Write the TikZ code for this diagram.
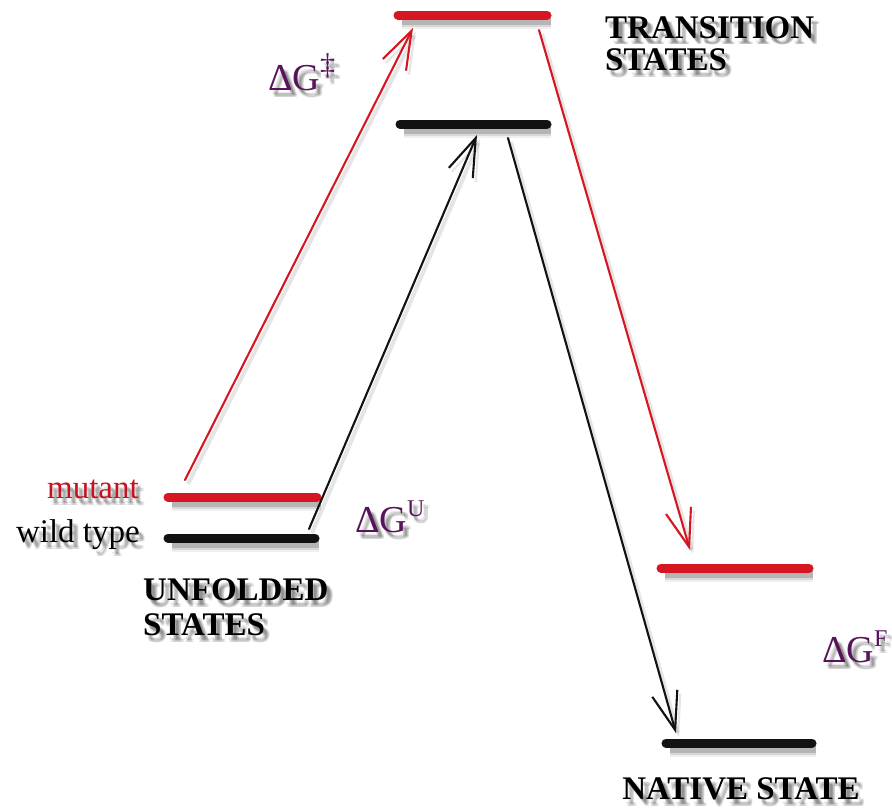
\documentclass[tikz,border=0pt]{standalone}
\usepackage{fontspec}
\setmainfont{Liberation Serif}
\usetikzlibrary{arrows.meta}

\definecolor{lvred}{RGB}{214,22,32}
\definecolor{lvblack}{RGB}{18,18,18}
\definecolor{dgpurple}{RGB}{88,20,90}
\definecolor{mutred}{RGB}{196,18,36}

% a text node with a soft grey drop shadow
% #1 name, #2 position, #3 node options, #4 text
\newcommand\softlabel[4]{%
  \foreach \dx/\dy in {3/4,4/5,5/6,6/7,4/7,6/5}{%
    \node[#3, text=black, opacity=0.09] at ([shift={(\dx,\dy)}]#2) {#4};
  }
  \node[#3] (#1) at (#2) {#4};
}

\tikzset{
  shadowed/.style={
    preaction={draw=black, draw opacity=0.06, line width=#1+8pt,
      transform canvas={shift={(4pt,-6pt)}}},
    preaction={draw=black, draw opacity=0.10, line width=#1+4pt,
      transform canvas={shift={(4pt,-6pt)}}},
    preaction={draw=black, draw opacity=0.16, line width=#1,
      transform canvas={shift={(4pt,-6pt)}}}},
  level/.style={line width=9pt, line cap=round, shadowed=7pt},
  arr/.style={line width=2.1pt, line cap=round,
    -{Straight Barb[length=38pt,width=26pt,line width=2.1pt]},
    preaction={draw=black, draw opacity=0.10, line width=4pt,
      transform canvas={shift={(3pt,-4pt)}}}},
  statefont/.style={font=\fontsize{33}{36}\selectfont\bfseries, inner sep=0pt},
  tagfont/.style={font=\fontsize{33}{36}\selectfont, inner sep=0pt},
  dgfont/.style={font=\fontsize{38}{40}\selectfont, text=dgpurple, inner sep=0pt},
}

\newcommand\supmark[2][24]{\raisebox{0.42em}{\fontsize{#1}{#1}\selectfont #2}}

\begin{document}
\begin{tikzpicture}[x=1pt, y=-1pt]
  \useasboundingbox (0,0) rectangle (892,811);

  % energy levels
  \coordinate (tsredL) at (398,15);  \coordinate (tsredR) at (547,15);
  \coordinate (tsblkL) at (400,124); \coordinate (tsblkR) at (547,124);
  \coordinate (unredL) at (168,497); \coordinate (unredR) at (317,497);
  \coordinate (unblkL) at (168,538); \coordinate (unblkR) at (315,538);
  \coordinate (ntredL) at (661,568); \coordinate (ntredR) at (809,568);
  \coordinate (ntblkL) at (666,743); \coordinate (ntblkR) at (812,743);

  \draw[level, lvred]   (tsredL) -- (tsredR);
  \draw[level, lvblack] (tsblkL) -- (tsblkR);
  \draw[level, lvred]   (unredL) -- (unredR);
  \draw[level, lvblack] (unblkL) -- (unblkR);
  \draw[level, lvred]   (ntredL) -- (ntredR);
  \draw[level, lvblack] (ntblkL) -- (ntblkR);

  % arrow end points
  \coordinate (mutStart) at (185,480);
  \coordinate (mutPeak)  at (413,28);
  \coordinate (wtStart)  at (309,529);
  \coordinate (wtPeak)   at (477,135);
  \coordinate (mutFrom)  at (539,30);
  \coordinate (mutEnd)   at (690,550);
  \coordinate (wtFrom)   at (508,138);
  \coordinate (wtEnd)    at (676,733);

  \draw[arr, lvred]   (mutStart) -- (mutPeak);
  \draw[arr, lvblack] (wtStart)  -- (wtPeak);
  \draw[arr, lvred]   (mutFrom)  -- (mutEnd);
  \draw[arr, lvblack] (wtFrom)   -- (wtEnd);

  % state names
  \softlabel{tsA}{605,38}{statefont, anchor=base west}{TRANSITION}
  \softlabel{tsB}{605,70}{statefont, anchor=base west}{STATES}
  \softlabel{ufA}{143,600}{statefont, anchor=base west}{UNFOLDED}
  \softlabel{ufB}{143,635}{statefont, anchor=base west}{STATES}
  \softlabel{nat}{741,799}{statefont, anchor=base}{NATIVE STATE}

  % protein labels
  \softlabel{mut}{139,498}{tagfont, anchor=base east, text=mutred}{mutant}
  \softlabel{wt}{140,542}{tagfont, anchor=base east}{wild type}

  % free energy labels
  \softlabel{dgts}{268,90}{dgfont, anchor=base west}{ΔG\supmark[30]{‡}}
  \softlabel{dgu}{355,532}{dgfont, anchor=base west}{ΔG\supmark{U}}
  \softlabel{dgf}{822,662}{dgfont, anchor=base west}{ΔG\supmark{F}}
\end{tikzpicture}
\end{document}
